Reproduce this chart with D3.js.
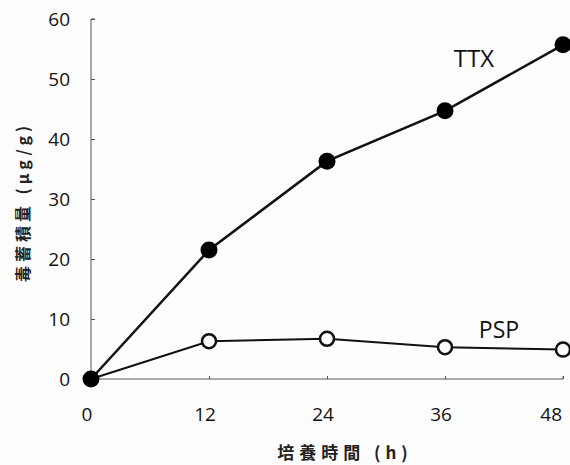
<!DOCTYPE html>
<html>
<head>
<meta charset="utf-8">
<script src="https://cdn.jsdelivr.net/npm/d3@7"></script>
<style>
  body { margin: 0; background: #fdfdfd; }
  svg { display: block; }
</style>
</head>
<body>
<div id="chart"></div>
<script>
// data
const hours = [0, 12, 24, 36, 48];
const ttx = [0, 21.5, 36.3, 44.7, 55.7];
const psp = [0, 6.3, 6.7, 5.3, 4.9];
const yTicks = [0, 10, 20, 30, 40, 50, 60];
const xTicks = [0, 12, 24, 36, 48];

const width = 570, height = 465;
const svg = d3.select('#chart').append('svg')
  .attr('width', width)
  .attr('height', height);

const x = d3.scaleLinear().domain([0, 48]).range([91, 563]);
const y = d3.scaleLinear().domain([0, 60]).range([379, 19]);

const fontNum = '"Open Sans", "Liberation Sans", sans-serif';
const fontJp = '"Noto Sans CJK JP", sans-serif';
const axisColor = '#555';

// y axis, ticks pointing inward
const yAxis = svg.append('g')
  .attr('transform', `translate(${x(0)},0)`)
  .call(d3.axisRight(y).tickValues(yTicks).tickSize(4).tickFormat(''));
yAxis.select('.domain').attr('stroke', axisColor).attr('d', `M4,${y(60)}H0V${y(0)}`);
yAxis.selectAll('.tick line').attr('stroke', axisColor);

svg.append('g').selectAll('text')
  .data(yTicks)
  .enter().append('text')
  .attr('x', 70)
  .attr('y', d => y(d))
  .attr('text-anchor', 'end')
  .attr('dominant-baseline', 'central')
  .style('font-family', fontNum)
  .style('font-size', '19px')
  .style('fill', '#111')
  .text(d => d);

// x axis, ticks pointing up
const xAxis = svg.append('g')
  .attr('transform', `translate(0,${y(0)})`)
  .call(d3.axisTop(x).tickValues(xTicks).tickSize(3).tickFormat(''));
xAxis.select('.domain').attr('stroke', axisColor).attr('d', `M${x(0)},0H${x(48)}V-3`);
xAxis.selectAll('.tick line').attr('stroke', axisColor);

svg.append('g').selectAll('text')
  .data(xTicks)
  .enter().append('text')
  .attr('x', (d, i) => i === xTicks.length - 1 ? x(d) - 1 : x(d) - 4)
  .attr('y', 414)
  .attr('text-anchor', (d, i) => i === xTicks.length - 1 ? 'end' : 'middle')
  .attr('dominant-baseline', 'central')
  .style('font-family', fontNum)
  .style('font-size', '19px')
  .style('fill', '#111')
  .text(d => d);

// axis titles
svg.append('text')
  .attr('x', 345)
  .attr('y', 451)
  .attr('text-anchor', 'middle')
  .attr('dominant-baseline', 'central')
  .style('font-family', fontJp)
  .style('font-size', '17px')
  .style('font-weight', 'bold')
  .style('letter-spacing', '5px')
  .style('fill', '#222')
  .text('培養時間 (h)');

svg.append('text')
  .attr('transform', 'translate(22,202) rotate(-90)')
  .attr('text-anchor', 'middle')
  .attr('dominant-baseline', 'central')
  .style('font-family', fontJp)
  .style('font-size', '16px')
  .style('font-weight', 'bold')
  .style('letter-spacing', '4px')
  .style('fill', '#222')
  .text('毒蓄積量 (μg/g)');

const line = d3.line()
  .x((d, i) => x(hours[i]))
  .y(d => y(d));

// PSP series
svg.append('path')
  .datum(psp)
  .attr('d', line)
  .attr('fill', 'none')
  .attr('stroke', '#111')
  .attr('stroke-width', 2);

svg.append('g').selectAll('circle')
  .data(psp.slice(1))
  .enter().append('circle')
  .attr('cx', (d, i) => x(hours[i + 1]))
  .attr('cy', d => y(d))
  .attr('r', 7)
  .attr('fill', '#fdfdfd')
  .attr('stroke', '#111')
  .attr('stroke-width', 2.5);

// TTX series
svg.append('path')
  .datum(ttx)
  .attr('d', line)
  .attr('fill', 'none')
  .attr('stroke', '#111')
  .attr('stroke-width', 2.5);

svg.append('g').selectAll('circle')
  .data(ttx)
  .enter().append('circle')
  .attr('cx', (d, i) => x(hours[i]))
  .attr('cy', d => y(d))
  .attr('r', 8.5)
  .attr('fill', '#000');

// series labels
svg.append('text')
  .attr('x', 474)
  .attr('y', 67)
  .attr('text-anchor', 'middle')
  .style('font-family', fontNum)
  .style('font-size', '24px')
  .style('fill', '#111')
  .text('TTX');

svg.append('text')
  .attr('x', 499)
  .attr('y', 338)
  .attr('text-anchor', 'middle')
  .style('font-family', fontNum)
  .style('font-size', '23px')
  .style('fill', '#111')
  .text('PSP');
</script>
</body>
</html>
